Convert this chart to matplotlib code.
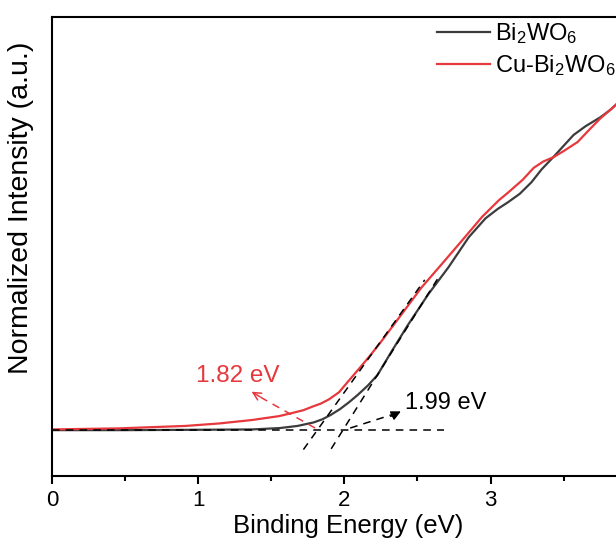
import numpy as np
import matplotlib
matplotlib.use('Agg')
import matplotlib.pyplot as plt
from matplotlib.ticker import FixedLocator

plt.rcParams['font.family'] = ['Liberation Sans', 'DejaVu Sans']
plt.rcParams['mathtext.default'] = 'regular'

# curves (binding energy in eV, normalized intensity)
bwo_x = [0.0, 0.5, 1.0, 1.37, 1.56, 1.68, 1.735, 1.79, 1.85, 1.905, 1.97, 2.03, 2.09,
         2.16, 2.226, 2.322, 2.436, 2.574, 2.712, 2.851, 2.966, 3.05, 3.12, 3.20, 3.28,
         3.35, 3.43, 3.50, 3.568, 3.65, 3.753, 3.82, 3.87]
bwo_y = [0.0, 0.0, 0.001, 0.002, 0.006, 0.012, 0.017, 0.022, 0.031, 0.043, 0.060, 0.079,
         0.100, 0.127, 0.157, 0.224, 0.301, 0.388, 0.465, 0.551, 0.605, 0.632, 0.651,
         0.675, 0.708, 0.745, 0.780, 0.812, 0.843, 0.868, 0.894, 0.915, 0.934]
cu_x = [0.0, 0.457, 0.913, 1.142, 1.37, 1.553, 1.644, 1.72, 1.781, 1.84, 1.895, 1.963,
        2.032, 2.11, 2.18, 2.252, 2.39, 2.527, 2.666, 2.804, 2.942, 3.058, 3.116, 3.22,
        3.295, 3.36, 3.432, 3.50, 3.596, 3.68, 3.753, 3.82, 3.87]
cu_y = [0.002, 0.005, 0.012, 0.019, 0.029, 0.040, 0.049, 0.057, 0.067, 0.076, 0.088,
        0.108, 0.142, 0.180, 0.215, 0.253, 0.330, 0.407, 0.474, 0.541, 0.609, 0.657,
        0.677, 0.715, 0.749, 0.767, 0.780, 0.797, 0.823, 0.860, 0.891, 0.915, 0.934]

# onset fits: (start x, end x, intercept eV, slope)
cu_fit = (1.72, 2.55, 1.815, 0.584)
bwo_fit = (1.91, 2.64, 1.99, 0.667)
base_end = 2.68

fig = plt.figure(figsize=(6.16, 5.47), dpi=100)
ax = fig.add_axes([52/616, 71/547, (644-52)/616, (476-17)/547])

black = '#3c3c3c'
red = '#e6383d'
ax.plot(bwo_x, bwo_y, color=black, lw=1.6, label='Bi$_2$WO$_6$')
ax.plot(cu_x, cu_y, color=red, lw=1.6, label='Cu-Bi$_2$WO$_6$')

dash = (0, (5, 4))
ax.plot([0, base_end], [0, 0], color='k', lw=1.1, ls=dash)
for x0, x1, e0, k in [cu_fit, bwo_fit]:
    xs = np.array([x0, x1])
    ax.plot(xs, k*(xs - e0), color='k', lw=1.1, ls=dash)

# arrows
ax.plot([1.80, 1.38], [0.006, 0.105], color=red, lw=1.1, ls=dash)
ax.annotate('', xy=(1.349, 0.114), xytext=(1.44, 0.091),
            arrowprops=dict(arrowstyle='->', color=red, lw=1.1, mutation_scale=14))
ax.text(1.274, 0.154, '1.82 eV', color=red, fontsize=17.5, ha='center', va='center')

ax.plot([2.04, 2.37], [0.006, 0.050], color='k', lw=1.1, ls=dash)
ax.annotate('', xy=(2.404, 0.057), xytext=(2.30, 0.036),
            arrowprops=dict(arrowstyle='-|>', color='k', lw=1.1, mutation_scale=14))
ax.text(2.418, 0.077, '1.99 eV', color='k', fontsize=17, ha='left', va='center')

ax.set_xlim(0, 4.05)
ax.set_ylim(-0.131, 1.18)
ax.xaxis.set_major_locator(FixedLocator([0, 1, 2, 3]))
ax.xaxis.set_minor_locator(FixedLocator([0.5, 1.5, 2.5, 3.5]))
ax.set_yticks([])
ax.tick_params(axis='x', which='major', direction='out', length=6, width=1.5,
               labelsize=16, pad=4)
ax.tick_params(axis='x', which='minor', direction='out', length=3.5, width=1.5)
for s in ax.spines.values():
    s.set_linewidth(1.5)

ax.set_xlabel('Binding Energy (eV)', fontsize=18.5, labelpad=2)
fig.text(21/616, 1 - 208/547, 'Normalized Intensity (a.u.)', fontsize=20.5,
         rotation=90, ha='center', va='center')

ax.legend(loc='upper left', bbox_to_anchor=(437/616, 1 - 21/547),
          bbox_transform=fig.transFigure, frameon=False, fontsize=17,
          handlelength=2.25, handletextpad=0.2, borderpad=0, borderaxespad=0,
          labelspacing=0.3)

fig.savefig('out.png', dpi=100)
